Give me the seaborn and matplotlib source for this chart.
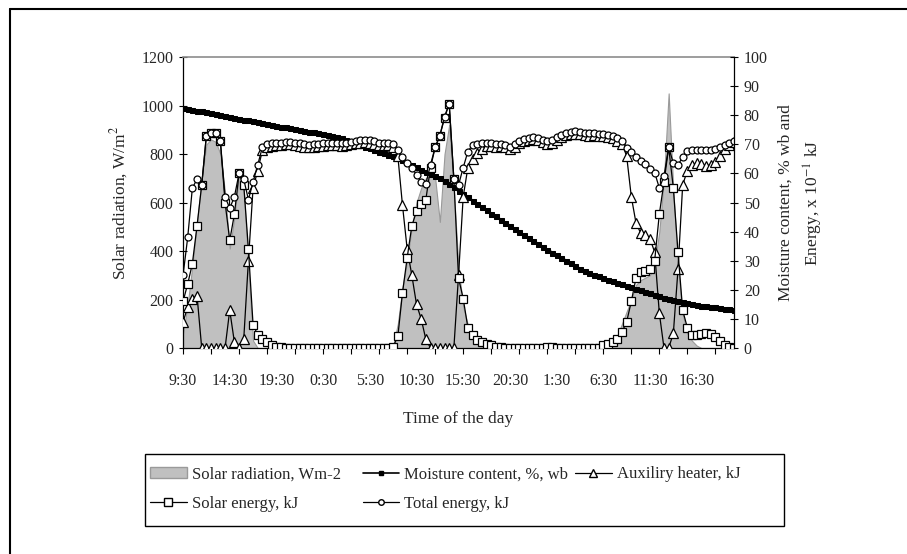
import matplotlib
matplotlib.use("Agg")
import matplotlib.pyplot as plt
from matplotlib.lines import Line2D
from matplotlib.patches import Patch, Rectangle
import seaborn as sns
import pandas as pd

# Readings every 30 min, starting at 9:30 on day 1 (119 points)
radiation = [
    60, 180, 340, 520, 700, 840, 860, 850, 800, 640,
    410, 540, 720, 660, 330, 30, 0, 0, 0, 0,
    0, 0, 0, 0, 0, 0, 0, 0, 0, 0,
    0, 0, 0, 0, 0, 0, 0, 0, 0, 0,
    0, 0, 0, 0, 0, 10, 100, 250, 360, 500,
    600, 660, 700, 710, 700, 520, 800, 920, 650, 330,
    170, 95, 47, 25, 10, 0, 0, 0, 0, 0,
    0, 0, 0, 0, 0, 0, 0, 0, 0, 0,
    0, 0, 0, 0, 0, 0, 0, 0, 0, 0,
    0, 5, 20, 50, 100, 150, 200, 260, 280, 290,
    300, 350, 480, 700, 1050, 650, 330, 140, 60, 30,
    10, 0, 0, 0, 0, 0, 0, 0, 0,
]

moisture = [
    82.5, 82.2, 81.9, 81.6, 81.3, 81.0, 80.7, 80.4, 80.1, 79.7,
    79.4, 79.1, 78.8, 78.5, 78.2, 77.9, 77.6, 77.3, 77.0, 76.7,
    76.4, 76.1, 75.8, 75.5, 75.2, 74.9, 74.6, 74.4, 74.1, 73.8,
    73.5, 73.2, 72.9, 72.6, 72.0, 71.5, 70.9, 70.4, 69.8, 69.2,
    68.7, 68.1, 67.5, 67.0, 66.4, 65.9, 65.3, 64.5, 63.7, 62.9,
    62.1, 61.3, 60.5, 59.8, 59.0, 58.3, 57.5, 56.3, 55.2, 54.0,
    52.9, 51.8, 50.6, 49.5, 48.4, 47.3, 46.2, 45.2, 44.1, 43.0,
    42.0, 40.9, 39.8, 38.8, 37.8, 36.8, 35.8, 34.8, 33.8, 32.8,
    31.9, 31.0, 30.0, 29.1, 28.2, 27.2, 26.3, 25.7, 25.2, 24.6,
    24.0, 23.5, 23.0, 22.5, 22.0, 21.4, 20.9, 20.4, 19.9, 19.3,
    18.8, 18.3, 17.8, 17.2, 16.7, 16.4, 16.1, 15.8, 15.4, 15.1,
    14.8, 14.6, 14.4, 14.2, 14.0, 13.7, 13.5, 13.3, 13.1,
]

aux_heater = [
    9, 14, 17, 18, 0, 0, 0, 0, 0, 0,
    13, 2, 0, 3, 30, 55, 61, 68, 69.2, 69.5,
    69.6, 69.8, 70.0, 70.1, 69.8, 69.5, 69.2, 69.0, 69.2, 69.4,
    69.5, 69.6, 69.6, 69.7, 69.5, 69.8, 70.1, 70.4, 70.6, 70.7,
    70.6, 70.2, 69.8, 69.7, 69.7, 69.0, 66.0, 49.0, 34.0, 25.0,
    15, 10, 3, 0, 0, 0, 0, 0, 0, 25,
    52, 62, 65, 67, 68.5, 69.4, 69.5, 69.2, 69.4, 69.0,
    68.4, 69.2, 70.4, 71.0, 71.4, 71.7, 71.5, 70.7, 70.2, 70.6,
    71.6, 72.5, 73.2, 73.6, 73.7, 73.4, 73.1, 73.0, 73.1, 72.8,
    72.7, 72.5, 72.0, 71.2, 70.2, 66, 52, 43, 39.5, 38.8,
    37.5, 33, 12, 0, 0, 5, 27, 56, 61, 63,
    63.5, 63.3, 62.7, 62.8, 64, 66, 68.3, 69.6, 70.7,
]

solar_energy = [
    16, 22, 29, 42, 56, 73, 74, 74, 71, 50,
    37, 46, 60, 56, 34, 8, 4.5, 3, 2, 1,
    0.5, 0.3, 0, 0, 0, 0, 0, 0, 0, 0,
    0, 0, 0, 0, 0, 0, 0, 0, 0, 0,
    0, 0, 0, 0, 0, 0.5, 4, 19, 31, 42,
    47, 49.5, 51, 62, 69, 73, 79, 84, 58, 24,
    17, 7, 4.5, 2.7, 2, 1.5, 1, 0.5, 0.3, 0,
    0, 0, 0, 0, 0, 0, 0, 0, 0.5, 0.5,
    0, 0, 0, 0, 0, 0, 0, 0, 0, 0,
    1, 1.5, 2, 3, 5.5, 9, 16, 24, 26, 26.5,
    27, 30, 46, 57, 69, 55, 33, 13, 7, 4.6,
    4.6, 4.7, 5.0, 4.8, 3.8, 2.5, 1, 0.2, 0,
]

total_energy = [
    25, 38, 55, 58, 56, 73, 74, 74, 71, 52,
    48, 52, 60, 58, 51, 57, 63, 69, 70, 70.3,
    70.4, 70.6, 70.8, 70.9, 70.6, 70.3, 70.0, 69.8, 70.0, 70.2,
    70.3, 70.4, 70.4, 70.5, 70.3, 70.6, 70.9, 71.2, 71.4, 71.5,
    71.4, 71.0, 70.6, 70.5, 70.5, 70.0, 68.0, 65.5, 63.5, 62.0,
    59.5, 57.0, 56.5, 63, 69, 73, 79.5, 84, 58, 56,
    62, 67.5, 69.8, 70.2, 70.3, 70.4, 70.3, 70.0, 70.2, 69.8,
    69.2, 70.0, 71.2, 71.8, 72.2, 72.5, 72.3, 71.5, 71.0, 71.4,
    72.4, 73.3, 74.0, 74.4, 74.5, 74.2, 73.9, 73.8, 73.9, 73.6,
    73.5, 73.3, 72.8, 72.0, 71.0, 68.8, 67.2, 65.5, 64.4, 63.2,
    61.5, 60.3, 55, 59, 69, 63.5, 63, 65.5, 67.8, 68.1,
    68.2, 68.2, 68.0, 68.1, 68.5, 69.0, 69.8, 70.4, 71.0,
]

start = pd.Timestamp("2000-01-01 09:30")
times = pd.date_range(start, periods=len(radiation), freq="30min")
df = pd.DataFrame({
    "hours": (times - start) / pd.Timedelta(hours=1),
    "radiation": radiation,
    "moisture": moisture,
    "aux": aux_heater,
    "solar": solar_energy,
    "total": total_energy,
})

sns.set_style("white")
plt.rcParams["font.family"] = ["Liberation Serif", "DejaVu Serif"]
plt.rcParams["mathtext.fontset"] = "stix"

fig = plt.figure(figsize=(9.07, 5.54), dpi=100)
ax1 = fig.add_axes([0.2018, 0.3718, 0.6075, 0.5253])

# solar radiation as grey area on the left axis
ax1.fill_between(df["hours"], df["radiation"], color="#c0c0c0",
                 edgecolor="#9a9a9a", linewidth=0.8, zorder=1)

ax2 = ax1.twinx()
sns.lineplot(data=df, x="hours", y="moisture", ax=ax2, color="black",
             linewidth=1.9, marker="s", markersize=3.6,
             markerfacecolor="black", markeredgecolor="black")
sns.lineplot(data=df, x="hours", y="aux", ax=ax2, color="black",
             linewidth=0.9, marker="^", markersize=6.5,
             markerfacecolor="white", markeredgecolor="black", markeredgewidth=0.9)
sns.lineplot(data=df, x="hours", y="solar", ax=ax2, color="black",
             linewidth=0.9, marker="s", markersize=6,
             markerfacecolor="white", markeredgecolor="black", markeredgewidth=0.9)
sns.lineplot(data=df, x="hours", y="total", ax=ax2, color="black",
             linewidth=0.9, marker="o", markersize=5,
             markerfacecolor="white", markeredgecolor="black", markeredgewidth=0.9)

ax1.set_xlim(0, 59)
ax1.set_ylim(0, 1200)
ax2.set_ylim(0, 100)

# x ticks every 3 h, labels every 5 h
ax1.xaxis.remove_overlapping_locs = False
ax1.set_xticks(range(0, 58, 3))
ax1.set_xticklabels([])
label_pos = list(range(0, 56, 5))
label_txt = [f"{times[p * 2].hour}:{times[p * 2].minute:02d}" for p in label_pos]
ax1.set_xticks(label_pos, minor=True)
ax1.set_xticklabels(label_txt, minor=True, fontsize=11.5)
ax1.tick_params(axis="x", which="major", bottom=True, direction="out",
                length=4.5, width=0.8, color="black")
ax1.tick_params(axis="x", which="minor", bottom=True, length=0, pad=18)

ax1.set_yticks(range(0, 1201, 200))
ax1.tick_params(axis="y", left=True, direction="inout", length=6, width=0.8,
                labelsize=11.5, pad=4, color="black")
ax2.set_yticks(range(0, 101, 10))
ax2.tick_params(axis="y", right=True, direction="inout", length=6, width=0.8,
                labelsize=11.5, pad=4, color="black")

for side in ["left", "bottom"]:
    ax1.spines[side].set_color("black")
    ax1.spines[side].set_linewidth(0.9)
ax1.spines["top"].set_color("#8c8c8c")
ax1.spines["top"].set_linewidth(1.2)
ax1.spines["right"].set_visible(False)
for side in ["left", "bottom", "top"]:
    ax2.spines[side].set_visible(False)
ax2.spines["right"].set_color("black")
ax2.spines["right"].set_linewidth(0.9)

ax1.set_xlabel("Time of the day", fontsize=12.5, labelpad=16)
ax1.set_ylabel("Solar radiation, W/m$^2$", fontsize=12.5, labelpad=8)
ax2.set_xlabel("")
ax2.set_ylabel("Moisture content, % wb and\nEnergy, x 10$^{-1}$ kJ",
               fontsize=12.5, labelpad=7, linespacing=1.5)

# legend: three columns inside one frame
h_rad = Patch(facecolor="#c0c0c0", edgecolor="#9a9a9a")
h_moist = Line2D([], [], color="black", lw=1.2, marker="s", ms=3,
                 mfc="black", mec="black")
h_aux = Line2D([], [], color="black", lw=0.9, marker="^", ms=5.5,
               mfc="white", mec="black")
h_solar = Line2D([], [], color="black", lw=0.9, marker="s", ms=5.5,
                 mfc="white", mec="black")
h_total = Line2D([], [], color="black", lw=0.9, marker="o", ms=4,
                 mfc="white", mec="black")

common = dict(loc="upper left", frameon=False, fontsize=12, handlelength=2.2,
              handletextpad=0.3, labelspacing=0.8, borderpad=0, borderaxespad=0)
fig.legend([h_rad, h_solar], ["Solar radiation, Wm-2", "Solar energy, kJ"],
           bbox_to_anchor=(0.1654, 0.158), **common)
fig.legend([h_moist, h_total], ["Moisture content, %, wb", "Total energy, kJ"],
           bbox_to_anchor=(0.400, 0.158), **common)
fig.legend([h_aux], ["Auxiliry heater, kJ"],
           bbox_to_anchor=(0.634, 0.158), **common)
fig.add_artist(Rectangle((0.1599, 0.0505), 0.7045, 0.13, transform=fig.transFigure,
                         fill=False, edgecolor="black", linewidth=1.0))

# chart-area border (left and top edges)
fig.add_artist(Line2D([0.011, 0.011], [0, 0.9838], color="black", lw=1.5))
fig.add_artist(Line2D([0.011, 1.0], [0.9838, 0.9838], color="black", lw=1.5))

fig.savefig("out.png", dpi=100)
